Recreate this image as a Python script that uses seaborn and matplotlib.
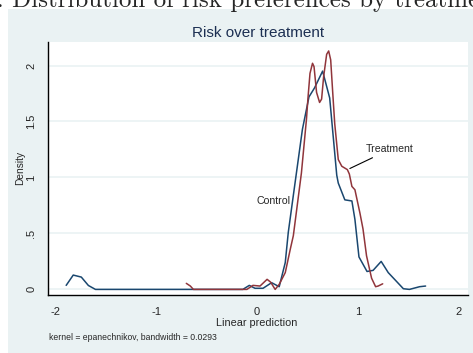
import numpy as np
import pandas as pd
import matplotlib
matplotlib.use("Agg")
import matplotlib.pyplot as plt
from matplotlib.patches import Rectangle
import seaborn as sns

# ---- data ----
control_x = [-1.89, -1.82, -1.74, -1.67, -1.60, -0.14, -0.076, -0.02, 0.06, 0.145, 0.22,
             0.28, 0.31, 0.36, 0.45, 0.515, 0.57, 0.65, 0.72, 0.79, 0.805, 0.87, 0.94,
             0.97, 1.01, 1.09, 1.15, 1.23, 1.30, 1.45, 1.51, 1.61, 1.67]
control_y = [0.036, 0.128, 0.11, 0.035, 0.0, 0.0, 0.036, 0.01, 0.01, 0.06, 0.024,
             0.24, 0.51, 0.84, 1.43, 1.72, 1.80, 1.95, 1.71, 1.02, 0.95, 0.80, 0.79,
             0.625, 0.29, 0.16, 0.17, 0.25, 0.15, 0.006, 0.0, 0.024, 0.03]

treat_x = [-0.70, -0.66, -0.63, -0.10, -0.04, 0.03, 0.10, 0.135, 0.18, 0.22, 0.28,
           0.33, 0.36, 0.38, 0.44, 0.49, 0.505, 0.525, 0.55, 0.565, 0.59, 0.62, 0.64,
           0.66, 0.69, 0.71, 0.73, 0.75, 0.77, 0.805, 0.84, 0.895, 0.915, 0.94, 0.97,
           1.02, 1.05, 1.085, 1.135, 1.175, 1.20, 1.245]
treat_y = [0.054, 0.03, 0.0, 0.0, 0.036, 0.03, 0.09, 0.065, 0.0, 0.045, 0.15,
           0.36, 0.48, 0.62, 1.04, 1.52, 1.71, 1.93, 2.02, 1.99, 1.76, 1.67, 1.70,
           1.90, 2.10, 2.13, 2.05, 1.76, 1.48, 1.16, 1.10, 1.07, 1.03, 0.92, 0.89,
           0.68, 0.54, 0.30, 0.10, 0.024, 0.03, 0.05]

groups = ["Control", "Treatment"]
x_ticks = [-2, -1, 0, 1, 2]
y_ticks = [0, 0.5, 1, 1.5, 2]
y_ticklabels = ["0", ".5", "1", "1.5", "2"]

title = "Risk over treatment"
x_label = "Linear prediction"
y_label = "Density"
note = "kernel = epanechnikov, bandwidth = 0.0293"
caption = "Figure 1: Distribution of risk preferences by treatment"

df = pd.concat([
    pd.DataFrame({"x": control_x, "y": control_y, "group": groups[0]}),
    pd.DataFrame({"x": treat_x, "y": treat_y, "group": groups[1]}),
], ignore_index=True)

# ---- styling ----
sns.set_style("white")
plt.rcParams["font.family"] = ["Liberation Sans", "DejaVu Sans"]

W, H = 473, 353
fig = plt.figure(figsize=(W / 100, H / 100), dpi=100)
fig.patch.set_facecolor("white")
bg = "#EAF2F3"
fig.patches.append(Rectangle((8 / W, 0), 1 - 8 / W, (H - 9) / H,
                             transform=fig.transFigure, facecolor=bg,
                             edgecolor="none", zorder=-10))

ax = fig.add_axes([48 / W, 58 / H, (468 - 48) / W, (311 - 58) / H])
ax.set_zorder(2)
ax.set_facecolor("white")

palette = {"Control": "#1a476f", "Treatment": "#90353b"}
sns.lineplot(data=df, x="x", y="y", hue="group", palette=palette,
             estimator=None, sort=False, linewidth=1.1, legend=False, ax=ax)

ax.set_xlim(-2.07, 2.09)
ax.set_ylim(-0.05, 2.21)
ax.set_xticks(x_ticks)
ax.set_xticklabels([str(v) for v in x_ticks], fontsize=8)
ax.set_yticks(y_ticks)
ax.set_yticklabels(y_ticklabels, fontsize=8, rotation=90, va="center")
ax.tick_params(axis="both", direction="out", length=5.5, width=0.8, color="black",
               pad=3)
ax.grid(axis="y", color=bg, linewidth=1.2)
ax.grid(axis="x", visible=False)
ax.set_axisbelow(True)
for s in ["top", "right"]:
    ax.spines[s].set_visible(False)
for s in ["left", "bottom"]:
    ax.spines[s].set_color("black")
    ax.spines[s].set_linewidth(1.0)

ax.set_xlabel("")
ax.set_ylabel("")
fig.text(257 / W, 1 - 323 / H, x_label, ha="center", va="center", fontsize=7.8)
fig.text(20 / W, 1 - 168 / H, y_label, ha="center", va="center", fontsize=7.3,
         rotation=90)
fig.text(49 / W, 1 - 338 / H, note, ha="left", va="center", fontsize=6.2)
fig.text(258 / W, 1 - 33 / H, title, ha="center", va="center", fontsize=11,
         color="#1c2f52")

# curve labels
ax.text(0.33, 0.79, groups[0], ha="right", va="center", fontsize=7.6)
ax.annotate(groups[1], xy=(0.92, 1.08), xytext=(1.08, 1.25), ha="left",
            va="center", fontsize=7.6,
            arrowprops=dict(arrowstyle="-", color="black", lw=0.8,
                            shrinkA=0, shrinkB=0))

# truncated caption at the very top (serif, clipped by figure edge)
cap_fs = 18.0
cap = fig.text(0, 1 - 7 / H, caption, ha="left", va="baseline", fontsize=cap_fs,
               family="cmr10")
fig.canvas.draw()
r = fig.canvas.get_renderer()
tmp = fig.text(0, 0, "Figure 1: ", fontsize=cap_fs, family="cmr10")
pw = tmp.get_window_extent(r).width
tmp.remove()
cap.set_x((12 - pw) / W)

fig.savefig("out.png", dpi=100, facecolor=fig.get_facecolor())
